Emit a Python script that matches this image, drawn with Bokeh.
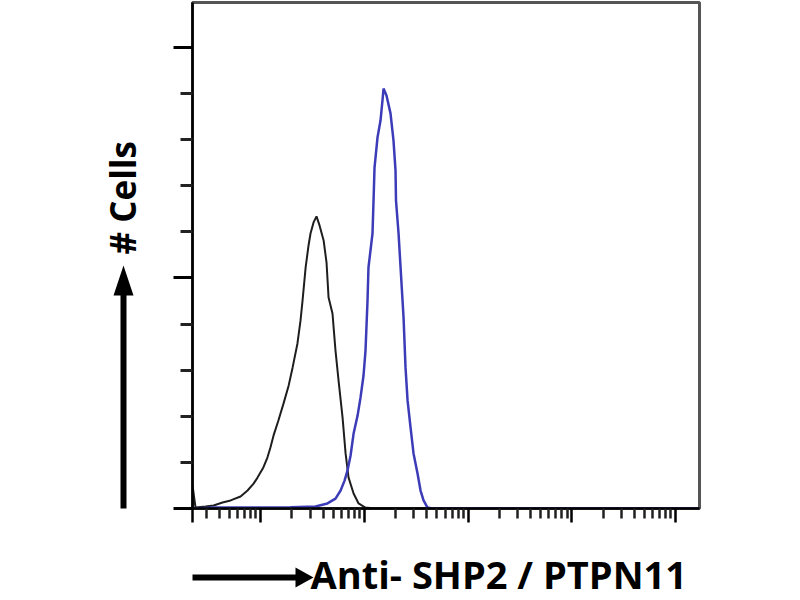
import math
from bokeh.plotting import figure
from bokeh.layouts import row, column
from bokeh.models import Range1d, FixedTicker, CustomJSTickFormatter
from bokeh.core.properties import value
from bokeh.embed import file_html
from bokeh.resources import INLINE

# ---- data ----
control_x = [2.2, 2.2, 2.35, 2.94, 3.51, 4.28, 5.12, 6.39, 7.46, 8.53, 9.31, 10.6, 11.6, 12.4, 13.3,
             14.8, 16.6, 18.6, 20.3, 22.6, 24.2, 25.3, 27.1, 28.9, 30.2, 32.3, 34.5, 36.9, 40.4, 43.1,
             45.1, 49.2, 52.6, 56.3, 61.5, 65.8, 70.3, 78.6, 87.8, 102, 125, 170000]
control_y = [0, 10, 0.4, 0.9, 1.3, 2.6, 3.5, 5.2, 7.8, 10.8, 13.4, 17.8, 22.1, 26.5, 31.7,
             38.2, 45.6, 53.4, 61.2, 71.6, 81.6, 90.2, 104.6, 114.1, 119.3, 124.1, 126.7, 122.8, 116.3, 106.7,
             91.5, 84.6, 68.5, 55.5, 39.5, 23.9, 13.4, 6.5, 2.2, 0.4, 0, 0]

antibody_x = [2.2, 3.66, 7.98, 19.4, 33.7, 44.0, 52.6, 58.9, 64.3, 68.7, 73.5, 78.6, 85.9, 91.7, 98.0,
              102.4, 107.1, 109.4, 119.6, 122.4, 125.1, 133.7, 142.9, 149.3, 152.8, 163.2, 178.4, 190.6,
              199.4, 201.5, 213.3, 233.0, 238.3, 249.0, 260.5, 278.5, 297.4, 325.1, 347.5, 371.5, 405.5,
              450, 170000]
antibody_y = [0, 0.4, 0.4, 0.5, 0.9, 2.2, 4.3, 7.8, 12.1, 16.5, 23.0, 32.5, 40.3, 48.2, 57.7,
              68.5, 90.2, 104.6, 119.3, 133.6, 147.9, 161.0, 168.3, 177.0, 182.2, 179.2, 171.4, 159.7,
              146.6, 133.6, 119.3, 90.2, 82.9, 61.2, 46.9, 35.1, 23.9, 15.2, 7.8, 3.5, 0.4,
              0, 0]

x_start, x_end = 10 ** 0.342, 10 ** 5.231
y_end = 219.5
x_major_ticks = [x_start, 10, 100, 1000, 10000, 100000]
x_minor_ticks = [k * 10 ** d for d in range(0, 5) for k in range(2, 10) if x_start < k * 10 ** d < x_end]
y_major_ticks = [0, 100, 200]
y_minor_ticks = [20, 40, 60, 80, 120, 140, 160, 180]

y_label = "# Cells"
x_label = "Anti- SHP2 / PTPN11"

# ---- layout geometry (pixels) ----
TOTAL_W, TOTAL_H = 784, 600
LEFT_W = 152          # panel holding the "# Cells" title
TOP_B, BOT_B = 2, 30  # main chart borders above / below its frame
MAIN_H = 508 + BOT_B  # main chart height (frame bottom at y = 508)
BOTTOM_H = TOTAL_H - MAIN_H
MAIN_W = TOTAL_W - LEFT_W

# ---- main chart ----
p = figure(width=MAIN_W, height=MAIN_H, x_axis_type="log",
           x_range=Range1d(x_start, x_end), y_range=Range1d(0, y_end),
           output_backend="svg", toolbar_location=None,
           min_border_left=40, min_border_right=85, min_border_top=TOP_B, min_border_bottom=BOT_B)
p.grid.visible = False
p.background_fill_color = "white"
p.border_fill_color = "white"
p.outline_line_color = "#555555"
p.outline_line_width = 3

blank = CustomJSTickFormatter(code="return ''")

p.xaxis.ticker = FixedTicker(ticks=x_major_ticks, minor_ticks=x_minor_ticks)
p.xaxis.formatter = blank
p.xaxis.major_label_standoff = 0
p.xaxis.major_label_text_font_size = "8px"
p.xaxis.axis_line_width = 2.5
p.xaxis.axis_line_color = "black"
p.xaxis.major_tick_in = 0
p.xaxis.minor_tick_in = 0
p.xaxis.major_tick_out = 14
p.xaxis.minor_tick_out = 10
p.xaxis.major_tick_line_width = 2.5
p.xaxis.minor_tick_line_width = 2.5
p.xaxis.major_tick_line_color = "black"
p.xaxis.minor_tick_line_color = "#222222"

p.yaxis.ticker = FixedTicker(ticks=y_major_ticks, minor_ticks=y_minor_ticks)
p.yaxis.formatter = blank
p.yaxis.major_label_standoff = 0
p.yaxis.major_label_text_font_size = "8px"
p.yaxis.axis_line_width = 2.5
p.yaxis.axis_line_color = "black"
p.yaxis.major_tick_in = 0
p.yaxis.minor_tick_in = 0
p.yaxis.major_tick_out = 19
p.yaxis.minor_tick_out = 12
p.yaxis.major_tick_line_width = 3
p.yaxis.minor_tick_line_width = 3
p.yaxis.major_tick_line_color = "black"
p.yaxis.minor_tick_line_color = "#222222"

p.line(control_x, control_y, line_color="#1e1e1e", line_width=2)
p.line(antibody_x, antibody_y, line_color="#3c3cb8", line_width=2.5)

# ---- left panel: "# Cells" with upward arrow (page-pixel coordinates, y down) ----
pl = figure(width=LEFT_W, height=MAIN_H,
            x_range=Range1d(0, LEFT_W), y_range=Range1d(MAIN_H - BOT_B, TOP_B),
            output_backend="svg", toolbar_location=None,
            x_axis_location=None, y_axis_location=None,
            min_border_left=0, min_border_right=0, min_border_top=TOP_B, min_border_bottom=BOT_B)
pl.grid.visible = False
pl.outline_line_color = None
pl.patch([120, 126, 126, 133, 123, 113, 120], [509, 509, 295, 295, 265, 295, 295],
         fill_color="black", line_color=None)
pl.text(x=[122], y=[254], text=[y_label], angle=math.pi / 2,
        text_font=value("Open Sans"), text_font_style="bold", text_font_size=value("35px"),
        text_color="black", text_align="left", text_baseline="alphabetic")

# ---- bottom panel: arrow and "Anti- SHP2 / PTPN11" (page-pixel coordinates, y down) ----
pb = figure(width=TOTAL_W, height=BOTTOM_H, x_range=Range1d(0, TOTAL_W), y_range=Range1d(TOTAL_H, MAIN_H),
            output_backend="svg", toolbar_location=None,
            x_axis_location=None, y_axis_location=None, min_border=0)
pb.grid.visible = False
pb.outline_line_color = None
pb.patch([192, 295, 295, 313, 295, 295, 192], [574, 574, 567, 577, 587, 580, 580],
         fill_color="black", line_color=None)
pb.text(x=[310], y=[573], text=[x_label],
        text_font=value("Open Sans"), text_font_style="bold", text_font_size=value("38px"),
        text_color="black", text_align="left", text_baseline="alphabetic")

layout = column(row(pl, p), pb)
open("out.html", "w").write(file_html(layout, INLINE))
